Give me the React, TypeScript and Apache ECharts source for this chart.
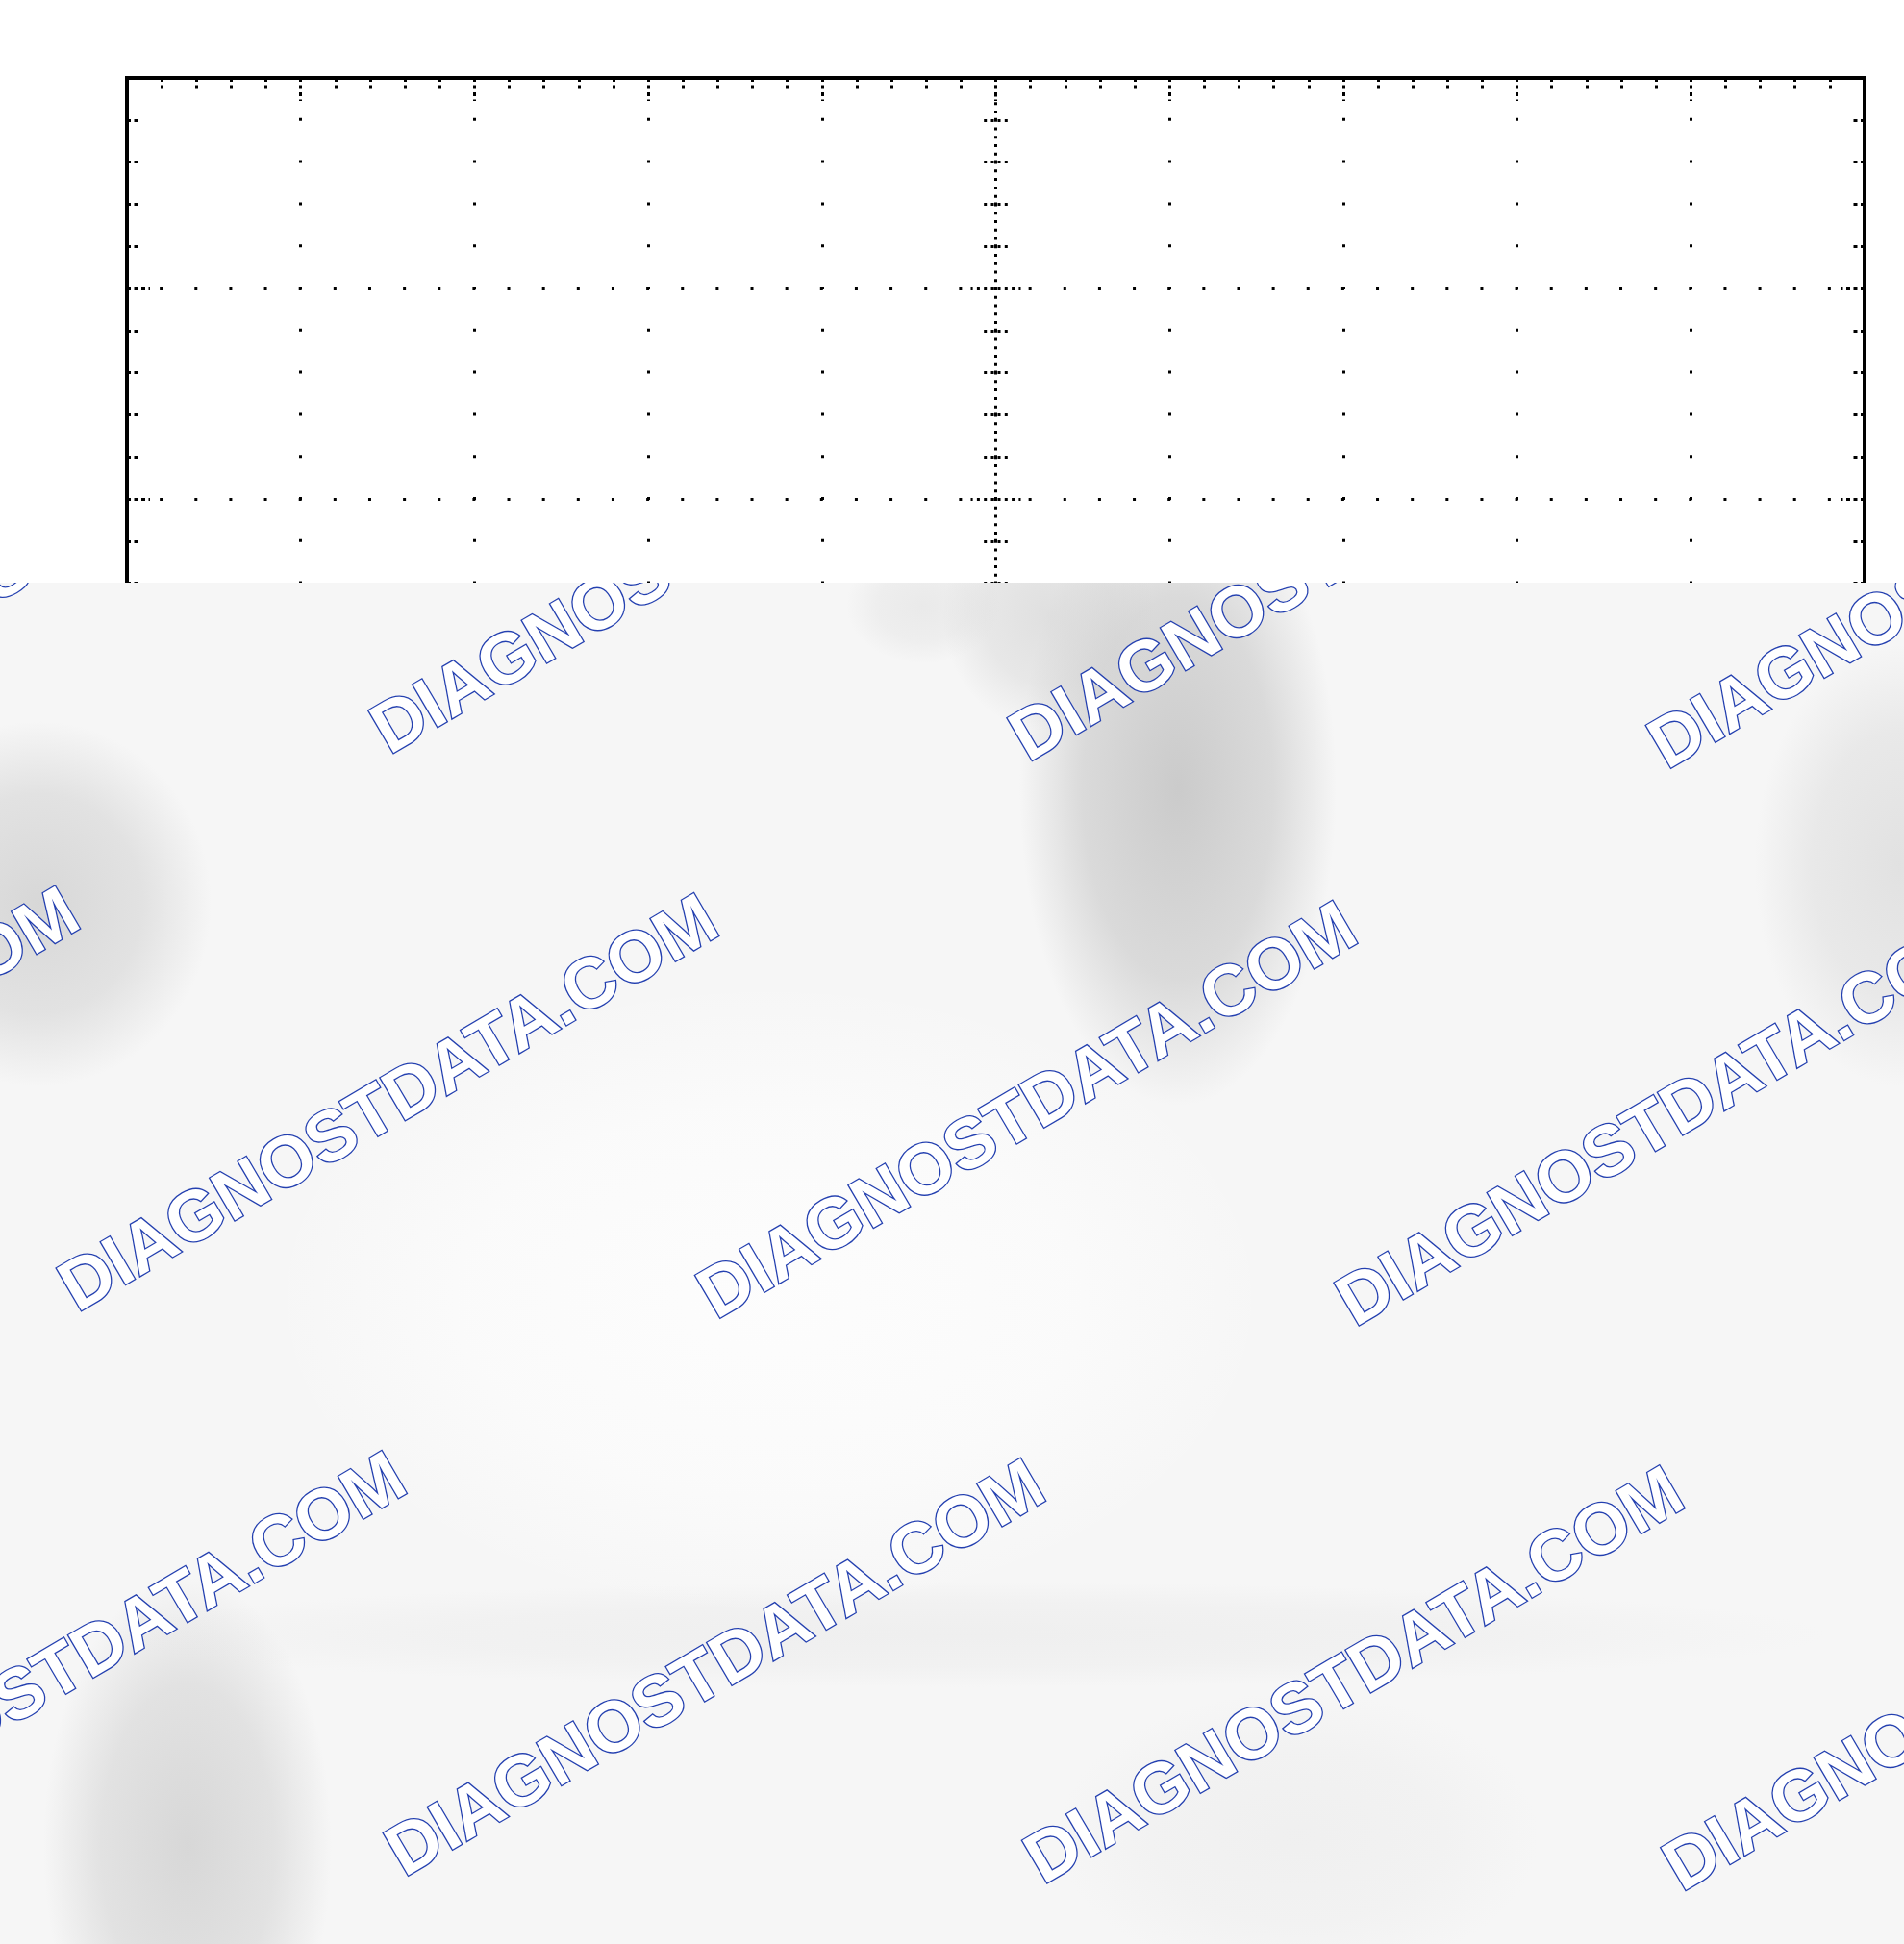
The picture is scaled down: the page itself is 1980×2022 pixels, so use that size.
import React, { useEffect, useRef } from "react";
import * as echarts from "echarts";

// oscilloscope screen: 10 x 8 divisions, 5 sub-divisions each,
// centre axes marked at 25 steps per division
const xRange = [-5, 5];
const yRange = [-4, 4];
const subDivisions = 5;
const centreSteps = 25;

// watermark lattice over the blurred lower part
const watermarkText = "DIAGNOSTDATA.COM";
const watermarkColumns = [-1, 0, 1, 2, 3];
const watermarkRows = [0, 1, 2];

const PAGE_W = 1980;
const PAGE_H = 2022;
const GRID = { left: 132, top: 81, width: 1807, height: 1752 };
const COVER_TOP = 606;
const INK = "#000000";

const WM_ORIGIN = { x: 727.5, y: 566.3 };
const WM_COL = { x: 664.3, y: 7.7 };
const WM_ROW = { x: 7.7, y: 583.7 };
const WM_ANGLE = 0.532;

// soft grey smudges of the blurred area (page coordinates)
const shadeSpots = [
  { cx: 1225, cy: 820, rx: 165, ry: 330, c: "198,198,198", a: 0.9 },
  { cx: 1090, cy: 640, rx: 110, ry: 120, c: "205,205,205", a: 0.55 },
  { cx: 960, cy: 630, rx: 80, ry: 60, c: "215,215,215", a: 0.4 },
  { cx: 40, cy: 940, rx: 180, ry: 190, c: "205,205,205", a: 0.75 },
  { cx: 195, cy: 1920, rx: 150, ry: 280, c: "205,205,205", a: 0.75 },
  { cx: 1975, cy: 900, rx: 150, ry: 230, c: "212,212,212", a: 0.6 },
  { cx: 1000, cy: 1700, rx: 900, ry: 55, c: "228,228,228", a: 0.4 },
  { cx: 1350, cy: 1910, rx: 250, ry: 150, c: "228,228,228", a: 0.35 },
  { cx: 800, cy: 1350, rx: 520, ry: 330, c: "253,253,253", a: 0.95 },
];

const xSpan = xRange[1] - xRange[0];
const ySpan = yRange[1] - yRange[0];
const xMinorPx = GRID.width / (xSpan * subDivisions);
const yMinorPx = GRID.height / (ySpan * subDivisions);

const dotted = (period: number) => ({
  color: INK,
  width: 3,
  cap: "butt",
  type: [3, period - 3],
  dashOffset: 1.5,
});

const edgeTick = { color: INK, width: 3, cap: "butt", type: [4, 3.5] };
const crossTick = { color: INK, width: 3, cap: "butt", type: [3, 4.3], dashOffset: -2.5 };

const edgeAxis = (range: number[], position: string, split: number | null) => ({
  type: "value",
  min: range[0],
  max: range[1],
  interval: 1,
  position,
  axisLine: { show: false, onZero: false },
  axisTick: { show: true, inside: true, length: 24, lineStyle: edgeTick },
  minorTick: { show: true, splitNumber: subDivisions, length: 12, lineStyle: edgeTick },
  axisLabel: { show: false },
  splitLine: { show: split !== null, lineStyle: dotted(split || 10) },
});

const centreAxis = (range: number[], position: string, period: number | null) => ({
  type: "value",
  min: range[0],
  max: range[1],
  interval: 1,
  position,
  axisLine: {
    show: period !== null,
    onZero: true,
    onZeroAxisIndex: 0,
    lineStyle: dotted(period || 10),
  },
  axisTick: { show: true, inside: false, length: 26, lineStyle: crossTick },
  minorTick: { show: true, splitNumber: subDivisions, length: 13, lineStyle: crossTick },
  axisLabel: { show: false },
  splitLine: { show: false },
});

const buildScreenOption = () => ({
  animation: false,
  backgroundColor: "#ffffff",
  grid: {
    left: GRID.left,
    top: GRID.top,
    width: GRID.width,
    height: GRID.height,
    show: true,
    borderColor: INK,
    borderWidth: 4,
    backgroundColor: "#ffffff",
  },
  xAxis: [
    edgeAxis(xRange, "top", yMinorPx),
    edgeAxis(xRange, "bottom", null),
    centreAxis(xRange, "bottom", GRID.width / (xSpan * centreSteps)),
    centreAxis(xRange, "top", null),
  ],
  yAxis: [
    edgeAxis(yRange, "left", xMinorPx),
    edgeAxis(yRange, "right", null),
    centreAxis(yRange, "left", GRID.height / (ySpan * centreSteps)),
    centreAxis(yRange, "right", null),
  ],
  series: [{ type: "line", data: [], xAxisIndex: 0, yAxisIndex: 0 }],
});

const buildCoverOption = () => {
  const spots = shadeSpots.map((s) => ({
    type: "ellipse",
    silent: true,
    shape: { cx: s.cx, cy: s.cy - COVER_TOP, rx: s.rx, ry: s.ry },
    style: {
      fill: new echarts.graphic.RadialGradient(0.5, 0.5, 0.5, [
        { offset: 0, color: `rgba(${s.c},${s.a})` },
        { offset: 0.6, color: `rgba(${s.c},${s.a * 0.65})` },
        { offset: 1, color: `rgba(${s.c},0)` },
      ]),
    },
  }));

  const marks = watermarkRows.flatMap((j) =>
    watermarkColumns.map((i) => {
      const col = i + (j % 2 === 1 ? -0.5 : 0);
      return {
        type: "text",
        silent: true,
        x: WM_ORIGIN.x + col * WM_COL.x + j * WM_ROW.x,
        y: WM_ORIGIN.y + col * WM_COL.y + j * WM_ROW.y - COVER_TOP,
        rotation: WM_ANGLE,
        style: {
          text: watermarkText,
          font: 'bold 74px "Liberation Sans", Arial, sans-serif',
          fill: "#ffffff",
          stroke: "#2440b0",
          lineWidth: 2.6,
          align: "center",
          verticalAlign: "middle",
          textAlign: "center",
          textVerticalAlign: "middle",
        },
      };
    })
  );

  return {
    animation: false,
    backgroundColor: "#f6f6f6",
    graphic: [...spots, ...marks],
  };
};

const App: React.FC = () => {
  const screenRef = useRef<HTMLDivElement>(null);
  const coverRef = useRef<HTMLDivElement>(null);

  useEffect(() => {
    if (!screenRef.current || !coverRef.current) return;
    const screen = echarts.init(screenRef.current, null, { renderer: "svg" });
    const cover = echarts.init(coverRef.current, null, { renderer: "svg" });
    screen.setOption(buildScreenOption() as any);
    cover.setOption(buildCoverOption() as any);
    return () => {
      screen.dispose();
      cover.dispose();
    };
  }, []);

  return (
    <div
      style={{
        position: "absolute",
        left: 0,
        top: 0,
        width: PAGE_W,
        height: PAGE_H,
        overflow: "hidden",
        background: "#ffffff",
      }}
    >
      <div
        ref={screenRef}
        style={{ position: "absolute", left: 0, top: 0, width: PAGE_W, height: PAGE_H }}
      />
      <div
        ref={coverRef}
        style={{
          position: "absolute",
          left: 0,
          top: COVER_TOP,
          width: PAGE_W,
          height: PAGE_H - COVER_TOP,
        }}
      />
    </div>
  );
};

export default App;
